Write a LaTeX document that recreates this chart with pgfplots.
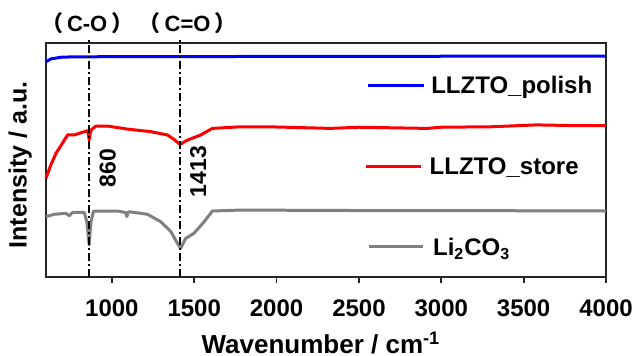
\documentclass[border=0pt]{standalone}
\usepackage{pgfplots}
\pgfplotsset{compat=1.18}
\usepackage{fontspec}
\setmainfont{Liberation Sans}
\newfontfamily\cjk{Noto Sans CJK SC}
\definecolor{cblue}{RGB}{0,0,255}
\definecolor{cred}{RGB}{255,0,0}
\definecolor{cgray}{RGB}{128,128,128}
\begin{document}
\begin{tikzpicture}
\begin{axis}[
  name=ax,
  scale only axis,
  width=280pt, height=117pt,
  xmin=600, xmax=4000, ymin=0, ymax=100,
  xtick={1000,1500,...,4000},
  ytick=\empty,
  xtick pos=bottom,
  tick align=outside,
  major tick length=3pt,
  axis line style={black!85, line width=0.9pt},
  every tick/.style={black!85, line width=0.9pt},
  /pgf/number format/assume math mode=true,
  /pgf/number format/1000 sep={},
  xticklabel style={font=\fontsize{12}{14}\selectfont\bfseries, anchor=base, inner sep=0pt, yshift=-16.8pt},
  xlabel={\fontsize{13}{15}\selectfont\bfseries Wavenumber / cm\textsuperscript{-1}},
  xlabel style={at={(axis description cs:0.491,-0.325)}, anchor=base, inner sep=0pt},
  ylabel={\fontsize{12.5}{15}\selectfont\bfseries Intensity / a.u.},
  ylabel style={at={(axis description cs:-0.0345,0.479)}, anchor=base, inner sep=0pt, rotate=0},
  clip=false,
]
% blue
\addplot[cblue, line width=1.5pt] coordinates {(600,92.0) (630,93.2) (691,93.9) (771,94.1) (1500,94.2) (2500,94.3) (4000,94.4)};
% red
\addplot[cred, line width=1.5pt, line join=round] coordinates {(600,42.2) (630,48) (661,52.9) (701,57.3) (731,60.7) (771,60.7) (802,61.4) (852,62.5) (858,61) (862,58.5) (867,61) (873,62.8) (903,64.5) (973,64.5) (1094,63.2) (1236,62.1) (1337,60.7) (1377,58.8) (1414,56.7) (1459,58.5) (1539,60.7) (1610,63.5) (1782,64.2) (2000,64.1) (2327,63.5) (2500,64.0) (2913,63.5) (3000,64.0) (3300,64.2) (3580,65.0) (3800,64.7) (4000,64.7)};
% gray
\addplot[cgray, line width=1.5pt, line join=round] coordinates {(600,25.8) (650,26.8) (721,27.2) (741,26.2) (762,27.6) (832,27.6) (848,23.6) (862,13.7) (873,23.6) (889,28.2) (1034,28.2) (1085,27.5) (1091,25.8) (1098,27.5) (1105,27.9) (1216,26.8) (1297,23.6) (1358,19.4) (1398,14.4) (1418,12.3) (1448,16.5) (1499,18.7) (1560,23.6) (1610,28.2) (1782,28.6) (2500,28.4) (3000,28.4) (4000,28.2)};
% reference lines
\addplot[black, line width=1pt, dash pattern=on 4pt off 1.5pt on 1pt off 1.5pt] coordinates {(860,0) (860,102)};
\addplot[black, line width=1pt, dash pattern=on 4pt off 1.5pt on 1pt off 1.5pt] coordinates {(1413,0) (1413,102)};
% legend lines
\addplot[cblue, line width=1.5pt] coordinates {(2555,82.0) (2895,82.0)};
\addplot[cred, line width=1.5pt] coordinates {(2543,47.1) (2877,47.1)};
\addplot[cgray, line width=1.5pt] coordinates {(2563,13.2) (2887,13.2)};
\node[anchor=base west, inner sep=0pt, font=\fontsize{12}{14}\selectfont\bfseries] at (axis cs:2937,78.5) {LLZTO\_polish};
\node[anchor=base west, inner sep=0pt, font=\fontsize{12}{14}\selectfont\bfseries] at (axis cs:2927,43.6) {LLZTO\_store};
\node[anchor=base west, inner sep=0pt, font=\fontsize{12}{14}\selectfont\bfseries] at (axis cs:2948,9.0) {Li\textsubscript{2}CO\textsubscript{3}};
% annotations
\node[anchor=base, inner sep=0pt, font=\fontsize{11}{12}\selectfont\bfseries] at (axis cs:850,105.1) {{\cjk （}\hspace{2pt}C-O\hspace{2pt}{\cjk ）}};
\node[anchor=base, inner sep=0pt, font=\fontsize{11}{12}\selectfont\bfseries] at (axis cs:1460,105.1) {{\cjk （}\hspace{2pt}C=O\hspace{2pt}{\cjk ）}};
\node[rotate=90, inner sep=0pt, font=\fontsize{11.5}{13}\selectfont\bfseries] at (axis cs:974,46.5) {860};
\node[rotate=90, inner sep=0pt, font=\fontsize{11.5}{13}\selectfont\bfseries] at (axis cs:1524,45.1) {1413};
\end{axis}
\pgfresetboundingbox
\path[use as bounding box] ([shift={(-23pt,-39.5pt)}]ax.south west) rectangle ([shift={(14pt,21.5pt)}]ax.north east);
\end{tikzpicture}
\end{document}
